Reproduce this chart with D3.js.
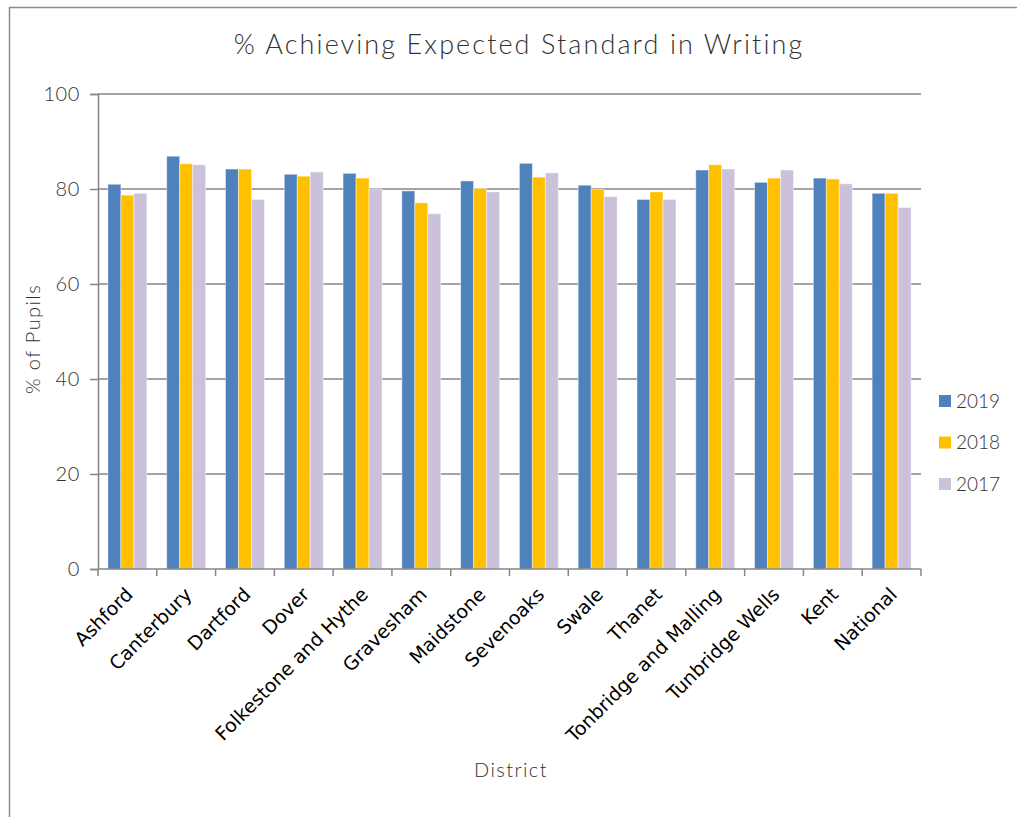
<!DOCTYPE html>
<html><head><meta charset="utf-8">
<script src="https://cdn.jsdelivr.net/npm/d3@7"></script>
<style>body{margin:0;background:#fff}svg{display:block}</style>
</head><body>
<script>
const categories = ["Ashford","Canterbury","Dartford","Dover","Folkestone and Hythe","Gravesham","Maidstone","Sevenoaks","Swale","Thanet","Tonbridge and Malling","Tunbridge Wells","Kent","National"];
const seriesNames = ["2019","2018","2017"];
const values2019 = [81.0,86.9,84.2,83.1,83.3,79.6,81.7,85.4,80.8,77.8,84.0,81.4,82.3,79.1];
const values2018 = [78.7,85.3,84.2,82.7,82.3,77.1,80.1,82.5,79.9,79.4,85.1,82.3,82.1,79.1];
const values2017 = [79.1,85.1,77.8,83.6,80.0,74.8,79.4,83.4,78.4,77.8,84.2,84.0,81.1,76.1];
const yTicks = [0,20,40,60,80,100];
const colors = ["#4F81BD","#FFC000","#CCC1DA"];
const title = "% Achieving Expected Standard in Writing";
const yTitle = "% of Pupils";
const xTitle = "District";

const W = 1017, H = 817;
const svg = d3.select("body").append("svg").attr("width", W).attr("height", H);
const lightFont = "Lato, 'Open Sans', sans-serif";
const textCol = "#333333";

// outer frame
svg.append("path").attr("d", `M9.5,${H} L9.5,7.5 L${W},7.5`).attr("fill","none").attr("stroke","#8c8c8c").attr("stroke-width",1.5);

const m = {left: 98, right: 921, top: 94, bottom: 569};
const x0 = d3.scaleBand().domain(categories).range([m.left, m.right]).paddingInner(0.337).paddingOuter(0.337/2);
const x1 = d3.scaleBand().domain(seriesNames).range([0, x0.bandwidth()]);
const y = d3.scaleLinear().domain([0,100]).range([m.bottom, m.top]);

// gridlines
svg.append("g").selectAll("line").data(yTicks.filter(d=>d>0)).join("line")
  .attr("x1", m.left).attr("x2", m.right).attr("y1", d=>y(d)).attr("y2", d=>y(d))
  .attr("stroke","#868686").attr("stroke-width",1.5);

const data = [values2019, values2018, values2017];
const g = svg.append("g");
categories.forEach((c, i) => {
  seriesNames.forEach((s, j) => {
    g.append("rect")
      .attr("x", x0(c) + x1(s)).attr("width", x1.bandwidth())
      .attr("y", y(data[j][i])).attr("height", y(0) - y(data[j][i]))
      .attr("fill", colors[j]).attr("stroke","rgba(255,255,255,0.45)").attr("stroke-width",1);
  });
});

// y axis
const yAxis = svg.append("g").attr("transform",`translate(${m.left},0)`)
  .call(d3.axisLeft(y).tickValues(yTicks).tickSize(8).tickPadding(10));
yAxis.select(".domain").attr("stroke","#868686").attr("stroke-width",1.5);
yAxis.selectAll(".tick line").attr("stroke","#868686").attr("stroke-width",1.5);
yAxis.selectAll(".tick text").attr("font-family",lightFont).attr("font-weight",300).attr("font-size",20).attr("letter-spacing",0.6).attr("fill",textCol);

// x axis
const step = (m.right - m.left) / categories.length;
const xb = svg.append("g").attr("transform",`translate(0,${m.bottom})`);
xb.append("line").attr("x1",m.left).attr("x2",m.right).attr("stroke","#868686").attr("stroke-width",1.5);
xb.selectAll("line.tk").data(d3.range(categories.length+1)).join("line").attr("class","tk")
  .attr("x1",d=>m.left+d*step).attr("x2",d=>m.left+d*step).attr("y1",0).attr("y2",7)
  .attr("stroke","#868686").attr("stroke-width",1.5);
xb.selectAll("text").data(categories).join("text")
  .attr("transform", d => `translate(${x0(d)+x0.bandwidth()/2+2},${22}) rotate(-45)`)
  .attr("text-anchor","end").attr("dy","0.35em")
  .attr("font-family","'DejaVu Sans', Verdana, sans-serif").attr("font-size",19).attr("fill","#000")
  .text(d=>d);

// titles
svg.append("text").attr("x",519).attr("y",54).attr("text-anchor","middle")
  .attr("font-family",lightFont).attr("font-weight",300).attr("font-size",27).attr("letter-spacing",2.1).attr("fill",textCol).text(title);
svg.append("text").attr("transform","translate(40,339) rotate(-90)").attr("text-anchor","middle")
  .attr("font-family",lightFont).attr("font-weight",300).attr("font-size",20).attr("letter-spacing",1.4).attr("fill",textCol).text(yTitle);
svg.append("text").attr("x",511).attr("y",777).attr("text-anchor","middle")
  .attr("font-family",lightFont).attr("font-weight",300).attr("font-size",20).attr("letter-spacing",1.4).attr("fill",textCol).text(xTitle);

// legend
const lg = svg.append("g");
seriesNames.forEach((s, j) => {
  const yy = 401 + j*41.5;
  lg.append("rect").attr("x",939).attr("y",yy-6).attr("width",12).attr("height",12).attr("fill",colors[j]);
  lg.append("text").attr("x",956).attr("y",yy).attr("dy","0.35em")
    .attr("font-family",lightFont).attr("font-weight",300).attr("font-size",19).attr("fill",textCol).text(s);
});
</script>
</body></html>
